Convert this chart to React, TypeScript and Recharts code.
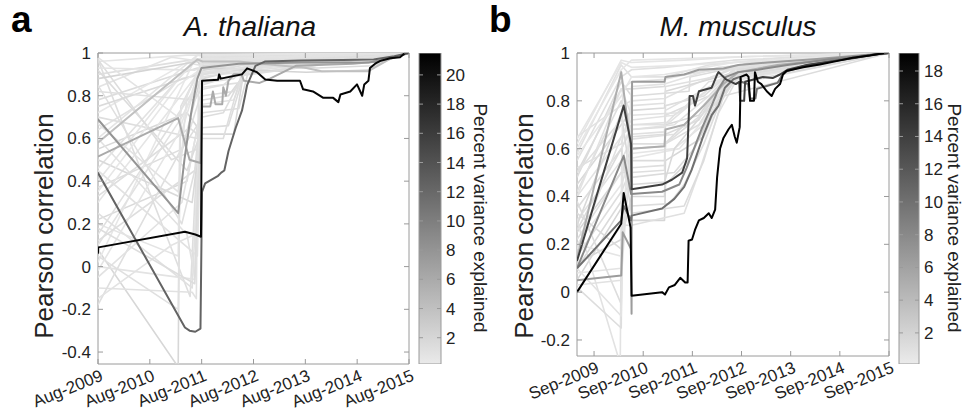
import { LineChart, Line, XAxis, YAxis, ReferenceArea, BarChart, Bar } from 'recharts'

type Pt = [number, number]

const FONT = '"Liberation Sans", Arial, Helvetica, sans-serif'
const AXIS = '#9a9a9a'
const TEXT = '#222'

// ---- A. thaliana (x in decimal years, Aug-2009 .. Aug-2015)
const athXTicks = [2009.583, 2010.583, 2011.583, 2012.583, 2013.583, 2014.583, 2015.583]
const athXLabels = ['Aug-2009', 'Aug-2010', 'Aug-2011', 'Aug-2012', 'Aug-2013', 'Aug-2014', 'Aug-2015']
const athYTicks = [-0.4, -0.2, 0, 0.2, 0.4, 0.6, 0.8, 1]
const athCbTicks = [2, 4, 6, 8, 10, 12, 14, 16, 18, 20]

const athLight: Pt[][] = [
  [[2009.58, 0.96], [2011.3, 0.99], [2011.6, 0.99], [2013.0, 0.995], [2015.58, 1]],
  [[2009.58, 0.9], [2011.45, 0.97], [2011.6, 0.975], [2012.5, 0.98], [2014.0, 0.99], [2015.58, 1]],
  [[2009.58, 0.84], [2011.0, 0.98], [2011.6, 0.96], [2012.8, 0.97], [2014.5, 0.985], [2015.58, 1]],
  [[2009.58, 0.78], [2011.5, 0.93], [2011.6, 0.92], [2012.3, 0.95], [2014.0, 0.97], [2015.58, 1]],
  [[2009.58, 0.72], [2011.4, 0.97], [2011.6, 0.95], [2013.0, 0.975], [2015.58, 1]],
  [[2009.58, 0.64], [2011.2, 0.88], [2011.6, 0.9], [2012.4, 0.96], [2014.2, 0.98], [2015.58, 1]],
  [[2009.58, 0.6], [2011.5, 0.99], [2011.6, 0.985], [2015.58, 1]],
  [[2009.58, 0.55], [2011.3, 0.72], [2011.6, 0.62], [2012.2, 0.62], [2012.4, 0.92], [2013.0, 0.96], [2015.58, 1]],
  [[2009.58, 0.46], [2011.4, 0.95], [2011.6, 0.94], [2012.6, 0.97], [2015.58, 1]],
  [[2009.58, 0.37], [2011.2, 0.55], [2011.6, 0.7], [2012.0, 0.72], [2012.45, 0.93], [2013.5, 0.97], [2015.58, 1]],
  [[2009.58, 0.3], [2011.5, 0.9], [2011.6, 0.91], [2012.5, 0.95], [2014.0, 0.975], [2015.58, 1]],
  [[2009.58, 0.22], [2011.3, 0.4], [2011.6, 0.78], [2012.1, 0.8], [2012.5, 0.93], [2015.58, 1]],
  [[2009.58, 0.15], [2011.5, 0.85], [2011.6, 0.86], [2012.2, 0.88], [2012.5, 0.95], [2015.58, 1]],
  [[2009.58, 0.08], [2011.13, -0.47], [2011.16, 0.5], [2011.6, 0.92], [2013.0, 0.97], [2015.58, 1]],
  [[2009.58, 0.97], [2011.36, -0.14], [2011.45, 0.3], [2011.6, 0.95], [2015.58, 1]],
  [[2009.58, 0.0], [2011.45, -0.06], [2011.55, 0.6], [2011.6, 0.97], [2015.58, 1]],
  [[2009.58, -0.1], [2011.4, -0.12], [2011.48, -0.15], [2011.52, 0.8], [2011.6, 0.98], [2015.58, 1]],
  [[2009.58, -0.18], [2011.3, 0.6], [2011.6, 0.83], [2012.0, 0.85], [2012.5, 0.95], [2015.58, 1]],
  [[2009.58, -0.05], [2011.2, 0.3], [2011.6, 0.76], [2012.2, 0.78], [2012.4, 0.9], [2015.58, 1]],
  [[2009.58, 0.5], [2011.4, 0.3], [2011.55, 0.6], [2011.6, 0.88], [2012.6, 0.94], [2015.58, 1]],
  [[2009.58, 0.92], [2011.3, 0.45], [2011.6, 0.65], [2012.1, 0.66], [2012.4, 0.9], [2015.58, 1]],
  [[2009.58, 0.02], [2011.45, 0.97], [2011.6, 0.97], [2015.58, 1]],
  [[2009.58, 0.7], [2011.5, 0.6], [2011.6, 0.8], [2012.2, 0.82], [2012.5, 0.94], [2015.58, 1]],
  [[2009.58, 0.4], [2011.5, 0.99], [2015.58, 1]],
  [[2009.58, 0.1], [2011.2, 0.7], [2011.6, 0.9], [2013.0, 0.96], [2015.58, 1]],
  [[2009.58, 0.97], [2011.0, 0.5], [2011.5, 0.55], [2011.6, 0.72], [2012.3, 0.74], [2012.5, 0.93], [2015.58, 1]],
  [[2009.58, 0.25], [2011.4, -0.1], [2011.5, 0.4], [2011.6, 0.89], [2015.58, 1]],
  [[2009.58, 0.85], [2011.2, 0.2], [2011.5, 0.5], [2011.6, 0.85], [2012.6, 0.93], [2015.58, 1]],
  [[2009.58, -0.15], [2011.0, 0.1], [2011.45, 0.15], [2011.6, 0.94], [2015.58, 1]],
  [[2009.58, 0.6], [2011.3, 0.15], [2011.45, -0.05], [2011.6, 0.9], [2015.58, 1]],
  [[2009.58, 0.93], [2011.45, 0.92], [2011.6, 0.93], [2012.6, 0.97], [2015.58, 1]],
  [[2009.58, 0.33], [2011.35, 0.65], [2011.6, 0.6], [2012.0, 0.6], [2012.35, 0.9], [2015.58, 1]],
  [[2009.58, 0.88], [2011.5, 0.96], [2011.6, 0.93], [2012.5, 0.92], [2013.6, 0.91], [2014.8, 0.92], [2015.2, 0.97], [2015.58, 1]],
  [[2009.58, 0.75], [2011.5, 0.9], [2011.6, 0.94], [2012.8, 0.95], [2013.8, 0.93], [2014.9, 0.94], [2015.3, 0.98], [2015.58, 1]],
  [[2009.58, 0.2], [2011.13, 0.05], [2011.16, 0.6], [2011.6, 0.96], [2015.58, 1]],
  [[2009.58, 0.05], [2011.13, -0.2], [2011.18, 0.75], [2011.6, 0.95], [2015.58, 1]],
  [[2009.58, 0.35], [2011.13, 0.85], [2011.6, 0.93], [2015.58, 1]],
  [[2009.58, 0.12], [2011.45, 0.45], [2011.55, 0.7], [2011.6, 0.9], [2012.5, 0.95], [2015.58, 1]],
  [[2009.58, 0.67], [2011.13, 0.35], [2011.3, 0.8], [2011.6, 0.96], [2015.58, 1]],
  [[2009.58, 0.82], [2011.45, 0.78], [2011.6, 0.84], [2012.3, 0.86], [2012.5, 0.95], [2015.58, 1]],
  [[2009.58, -0.02], [2011.13, 0.62], [2011.6, 0.97], [2015.58, 1]],
  [[2009.58, 0.45], [2011.5, 0.05], [2011.55, 0.5], [2011.6, 0.91], [2015.58, 1]],
  [[2009.58, 0.18], [2011.45, -0.08], [2011.5, 0.3], [2011.6, 0.87], [2015.58, 1]],
  [[2009.58, 0.98], [2011.13, 0.7], [2011.6, 0.97], [2015.58, 1]],
]
const athLightVar = [0.6, 1.2, 0.8, 1.5, 0.5, 1.0, 0.7, 1.8, 0.9, 1.4, 0.6, 1.6, 1.1, 1.9, 1.3, 0.8,
  1.0, 1.2, 0.9, 1.7, 1.5, 0.5, 1.3, 0.6, 0.9, 1.4, 1.1, 1.2, 0.8, 1.0, 0.7, 1.3, 2.2, 1.6,
  0.7, 1.1, 0.5, 1.3, 0.9, 1.2, 0.6, 1.0, 1.4, 0.8]

const athMain: Pt[][] = [
  [[2009.58, 0.58], [2011.5, 0.97], [2011.6, 0.96], [2012.3, 0.96], [2013.6, 0.93], [2013.9, 0.915], [2014.8, 0.915], [2015.2, 0.97], [2015.58, 1]],
  [[2009.58, 0.515], [2011.13, 0.695], [2011.35, 0.5], [2011.56, 0.485], [2011.59, 0.75], [2011.75, 0.75], [2011.8, 0.82],
    [2011.85, 0.76], [2011.98, 0.76], [2012.0, 0.84], [2012.05, 0.8], [2012.1, 0.87], [2012.2, 0.9], [2012.35, 0.9],
    [2012.4, 0.87], [2012.7, 0.86], [2012.9, 0.88], [2013.4, 0.94], [2014.5, 0.95], [2015.0, 0.96], [2015.58, 1]],
  [[2009.58, 0.69], [2011.13, 0.25], [2011.25, 0.5], [2011.38, 0.72], [2011.5, 0.88], [2011.58, 0.93], [2012.3, 0.95],
    [2013.5, 0.955], [2014.8, 0.955], [2015.3, 0.98], [2015.58, 1]],
  [[2009.58, 0.44], [2011.26, -0.285], [2011.35, -0.3], [2011.46, -0.305], [2011.56, -0.29], [2011.59, 0.35], [2011.65, 0.39],
    [2011.9, 0.425], [2011.96, 0.44], [2012.02, 0.45], [2012.1, 0.54], [2012.24, 0.65], [2012.36, 0.73], [2012.42, 0.8],
    [2012.46, 0.85], [2012.55, 0.9], [2012.62, 0.94], [2012.8, 0.96], [2013.5, 0.965], [2014.3, 0.967], [2014.9, 0.97],
    [2015.3, 0.985], [2015.58, 1]],
  [[2009.58, 0.06], [2009.59, 0.09], [2011.26, 0.163], [2011.46, 0.15], [2011.57, 0.14], [2011.59, 0.87], [2011.9, 0.875],
    [2011.92, 0.9], [2011.95, 0.88], [2012.36, 0.9], [2012.46, 0.928], [2012.55, 0.92], [2012.65, 0.91], [2012.81, 0.876],
    [2013.04, 0.87], [2013.48, 0.87], [2013.54, 0.83], [2013.73, 0.82], [2013.93, 0.79], [2014.12, 0.79], [2014.22, 0.77],
    [2014.26, 0.806], [2014.45, 0.82], [2014.58, 0.853], [2014.68, 0.8], [2014.72, 0.853], [2014.8, 0.87], [2014.83, 0.93],
    [2014.93, 0.95], [2015.03, 0.963], [2015.22, 0.975], [2015.41, 0.98], [2015.51, 1.0], [2015.58, 1.0]],
]
const athMainVar = [4, 6, 8, 12.5, 21]

// ---- M. musculus (Sep-2009 .. Sep-2015)
const musXTicks = [2009.667, 2010.667, 2011.667, 2012.667, 2013.667, 2014.667, 2015.667]
const musXLabels = ['Sep-2009', 'Sep-2010', 'Sep-2011', 'Sep-2012', 'Sep-2013', 'Sep-2014', 'Sep-2015']
const musYTicks = [-0.2, 0, 0.2, 0.4, 0.6, 0.8, 1]
const musCbTicks = [2, 4, 6, 8, 10, 12, 14, 16, 18]

const musLight: Pt[][] = [
  [[2009.32, 0.62], [2010.22, 0.97], [2010.42, 0.96], [2011.5, 0.97], [2012.7, 0.985], [2015.667, 1]],
  [[2009.32, 0.55], [2010.22, 0.9], [2010.43, 0.93], [2011.1, 0.94], [2012.5, 0.97], [2015.667, 1]],
  [[2009.32, 0.5], [2010.22, 0.85], [2010.43, 0.85], [2011.1, 0.86], [2011.12, 0.9], [2012.2, 0.93], [2013.5, 0.97], [2015.667, 1]],
  [[2009.32, 0.65], [2010.22, 0.78], [2010.43, 0.8], [2011.1, 0.81], [2011.6, 0.86], [2012.4, 0.93], [2013.5, 0.97], [2015.667, 1]],
  [[2009.32, 0.45], [2010.22, 0.7], [2010.43, 0.76], [2011.1, 0.77], [2011.12, 0.84], [2012.2, 0.9], [2013.0, 0.95], [2015.667, 1]],
  [[2009.32, 0.4], [2010.22, 0.65], [2010.43, 0.72], [2011.3, 0.74], [2011.7, 0.8], [2012.3, 0.9], [2013.2, 0.95], [2015.667, 1]],
  [[2009.32, 0.35], [2010.22, 0.6], [2010.43, 0.68], [2011.1, 0.69], [2011.12, 0.78], [2011.9, 0.82], [2012.5, 0.93], [2015.667, 1]],
  [[2009.32, 0.3], [2010.22, 0.55], [2010.43, 0.64], [2011.3, 0.66], [2011.8, 0.76], [2012.4, 0.9], [2015.667, 1]],
  [[2009.32, 0.25], [2010.22, 0.5], [2010.43, 0.6], [2011.1, 0.61], [2011.12, 0.7], [2011.8, 0.74], [2012.3, 0.88], [2013.1, 0.94], [2015.667, 1]],
  [[2009.32, 0.2], [2010.22, 0.45], [2010.43, 0.56], [2011.4, 0.6], [2011.9, 0.72], [2012.4, 0.88], [2015.667, 1]],
  [[2009.32, 0.15], [2010.22, 0.42], [2010.43, 0.52], [2011.1, 0.53], [2011.12, 0.62], [2011.8, 0.7], [2012.1, 0.8], [2012.5, 0.9], [2015.667, 1]],
  [[2009.32, 0.1], [2010.22, 0.38], [2010.43, 0.48], [2011.3, 0.5], [2011.7, 0.6], [2012.2, 0.8], [2012.6, 0.92], [2015.667, 1]],
  [[2009.32, 0.05], [2010.22, 0.35], [2010.43, 0.3], [2011.1, 0.3], [2011.12, 0.45], [2011.6, 0.55], [2012.1, 0.78], [2012.6, 0.9], [2015.667, 1]],
  [[2009.32, 0.0], [2010.22, 0.28], [2010.43, 0.28], [2011.5, 0.33], [2011.8, 0.5], [2012.2, 0.75], [2012.6, 0.9], [2015.667, 1]],
  [[2009.32, 0.3], [2010.2, -0.3], [2010.23, 0.6], [2010.43, 0.7], [2011.2, 0.71], [2011.6, 0.78], [2012.3, 0.9], [2015.667, 1]],
  [[2009.32, 0.02], [2010.22, -0.15], [2010.25, 0.5], [2010.43, 0.65], [2011.1, 0.66], [2011.12, 0.74], [2012.0, 0.82], [2012.5, 0.93], [2015.667, 1]],
  [[2009.32, 0.2], [2010.22, 0.15], [2010.43, 0.58], [2011.3, 0.6], [2011.9, 0.7], [2012.3, 0.86], [2015.667, 1]],
  [[2009.32, 0.58], [2010.22, 0.95], [2010.43, 0.9], [2011.1, 0.9], [2012.0, 0.95], [2013.5, 0.98], [2015.667, 1]],
  [[2009.32, 0.48], [2010.22, 0.88], [2010.43, 0.82], [2011.6, 0.84], [2011.62, 0.9], [2013.0, 0.96], [2015.667, 1]],
  [[2009.32, 0.12], [2010.22, 0.22], [2010.43, 0.4], [2011.1, 0.4], [2011.12, 0.55], [2011.9, 0.65], [2012.3, 0.85], [2012.7, 0.93], [2015.667, 1]],
  [[2009.32, 0.42], [2010.22, 0.8], [2010.43, 0.62], [2011.1, 0.62], [2011.6, 0.72], [2012.2, 0.84], [2012.6, 0.93], [2015.667, 1]],
  [[2009.32, 0.28], [2010.22, 0.75], [2010.43, 0.45], [2011.1, 0.46], [2011.3, 0.6], [2011.9, 0.75], [2012.4, 0.9], [2015.667, 1]],
  [[2009.32, 0.08], [2010.22, 0.1], [2010.25, 0.85], [2010.43, 0.88], [2011.1, 0.89], [2012.0, 0.93], [2015.667, 1]],
  [[2009.32, 0.6], [2010.22, 0.93], [2010.43, 0.97], [2012.0, 0.98], [2015.667, 1]],
  [[2009.32, 0.38], [2010.22, -0.05], [2010.25, 0.3], [2010.43, 0.36], [2011.2, 0.37], [2011.5, 0.45], [2011.9, 0.62], [2012.2, 0.78], [2012.6, 0.91], [2015.667, 1]],
  [[2009.32, 0.52], [2010.22, 0.62], [2010.43, 0.78], [2011.1, 0.79], [2011.12, 0.86], [2012.1, 0.9], [2012.8, 0.96], [2015.667, 1]],
  [[2009.32, 0.33], [2010.22, 0.18], [2010.43, 0.55], [2011.1, 0.55], [2011.12, 0.66], [2011.8, 0.72], [2012.2, 0.86], [2015.667, 1]],
  [[2009.32, 0.18], [2010.22, 0.65], [2010.43, 0.7], [2011.1, 0.7], [2011.3, 0.74], [2012.0, 0.85], [2012.6, 0.94], [2015.667, 1]],
  [[2009.32, 0.64], [2010.22, 0.96], [2010.43, 0.94], [2011.6, 0.95], [2015.667, 1]],
  [[2009.32, 0.22], [2010.22, 0.5], [2010.43, 0.5], [2011.1, 0.51], [2011.12, 0.62], [2012.2, 0.8], [2012.6, 0.92], [2015.667, 1]],
  [[2009.32, 0.4], [2010.22, 0.85], [2010.43, 0.74], [2011.4, 0.75], [2012.0, 0.88], [2015.667, 1]],
  [[2009.32, 0.26], [2010.22, 0.6], [2010.43, 0.33], [2011.5, 0.36], [2011.9, 0.55], [2012.3, 0.82], [2015.667, 1]],
  [[2009.32, 0.1], [2010.22, -0.1], [2010.24, 0.2], [2010.43, 0.86], [2011.1, 0.87], [2012.2, 0.94], [2015.667, 1]],
  [[2009.32, 0.5], [2010.22, 0.72], [2010.43, 0.66], [2011.1, 0.67], [2011.12, 0.76], [2012.2, 0.88], [2015.667, 1]],
  [[2009.32, 0.03], [2010.22, 0.05], [2010.43, 0.68], [2011.3, 0.7], [2012.0, 0.82], [2012.5, 0.92], [2015.667, 1]],
  [[2009.32, 0.57], [2010.22, 0.82], [2010.43, 0.9], [2011.1, 0.91], [2012.5, 0.96], [2015.667, 1]],
]
const musLightVar = [0.6, 1.0, 1.3, 0.8, 1.5, 0.7, 1.2, 0.9, 1.6, 0.5, 1.1, 1.4, 1.8, 1.0, 0.8, 1.2,
  0.6, 0.9, 1.3, 1.7, 1.1, 1.5, 0.7, 0.5, 1.2, 1.0, 1.4, 0.9, 0.6, 1.1, 0.8, 1.3, 0.7, 1.0, 0.9, 0.5]

const musMain: Pt[][] = [
  [[2009.32, 0.14], [2010.22, 0.92], [2010.42, 0.6], [2011.1, 0.61], [2011.12, 0.68], [2011.5, 0.7], [2011.9, 0.78],
    [2012.3, 0.87], [2012.6, 0.92], [2013.4, 0.95], [2015.667, 1]],
  [[2009.32, 0.05], [2010.22, 0.07], [2010.25, 0.25], [2010.42, 0.18], [2010.43, -0.09], [2010.44, 0.88], [2011.1, 0.88],
    [2011.12, 0.9], [2011.5, 0.91], [2011.8, 0.93], [2012.3, 0.935], [2012.6, 0.95], [2013.2, 0.96], [2014.2, 0.975], [2015.667, 1]],
  [[2009.32, 0.1], [2010.27, 0.57], [2010.42, 0.41], [2011.05, 0.42], [2011.4, 0.45], [2011.55, 0.52], [2011.7, 0.6],
    [2011.85, 0.68], [2012.0, 0.75], [2012.2, 0.85], [2012.35, 0.9], [2012.6, 0.92], [2013.0, 0.93], [2013.6, 0.95],
    [2014.5, 0.975], [2015.667, 1]],
  [[2009.32, 0.1], [2010.22, 0.3], [2010.27, 0.36], [2010.42, 0.3], [2010.43, 0.32], [2011.05, 0.35], [2011.3, 0.39],
    [2011.5, 0.44], [2011.65, 0.51], [2011.8, 0.6], [2011.9, 0.66], [2012.06, 0.74], [2012.2, 0.78], [2012.33, 0.855],
    [2012.5, 0.89], [2012.63, 0.9], [2012.66, 0.88], [2012.8, 0.87], [2012.84, 0.81], [2012.95, 0.81], [2012.98, 0.85],
    [2013.4, 0.875], [2013.5, 0.91], [2013.6, 0.925], [2014.0, 0.95], [2014.6, 0.97], [2015.2, 0.99], [2015.667, 1]],
  [[2009.32, 0.13], [2010.27, 0.78], [2010.42, 0.62], [2010.43, 0.43], [2011.05, 0.45], [2011.25, 0.47], [2011.46, 0.5],
    [2011.56, 0.56], [2011.61, 0.82], [2011.68, 0.82], [2011.72, 0.78], [2011.8, 0.84], [2012.06, 0.855], [2012.17, 0.91],
    [2012.2, 0.92], [2012.35, 0.89], [2012.55, 0.87], [2012.62, 0.88], [2012.64, 0.8], [2012.72, 0.8], [2012.74, 0.88],
    [2013.1, 0.9], [2013.3, 0.895], [2013.45, 0.91], [2013.6, 0.93], [2014.0, 0.95], [2014.5, 0.965], [2015.0, 0.98],
    [2015.4, 0.995], [2015.667, 1]],
  [[2009.32, 0.0], [2010.22, 0.286], [2010.27, 0.415], [2010.41, 0.27], [2010.43, -0.015], [2011.05, 0.0], [2011.11, -0.01],
    [2011.19, 0.02], [2011.31, 0.03], [2011.42, 0.06], [2011.52, 0.04], [2011.57, 0.04], [2011.59, 0.215], [2011.66, 0.22],
    [2011.72, 0.26], [2011.8, 0.3], [2011.9, 0.31], [2012.0, 0.33], [2012.06, 0.31], [2012.13, 0.345], [2012.17, 0.48],
    [2012.23, 0.6], [2012.3, 0.645], [2012.4, 0.68], [2012.47, 0.7], [2012.53, 0.65], [2012.57, 0.625], [2012.63, 0.69],
    [2012.65, 0.9], [2012.77, 0.91], [2012.81, 0.9], [2012.84, 0.8], [2012.92, 0.8], [2012.94, 0.92], [2013.0, 0.88],
    [2013.07, 0.87], [2013.18, 0.84], [2013.28, 0.82], [2013.35, 0.85], [2013.45, 0.87], [2013.51, 0.91], [2013.58, 0.925],
    [2013.92, 0.94], [2014.26, 0.952], [2014.6, 0.966], [2014.93, 0.98], [2015.28, 0.99], [2015.58, 1.0], [2015.667, 1.0]],
]
const musMainVar = [5, 6.5, 8, 10, 14, 19]

const grey = (v: number, vmax: number) => {
  const g = Math.round(236 * (1 - v / vmax))
  return `rgb(${g},${g},${g})`
}

const H = 410

function Panel(props: any) {
  const { left, width, margin, xDomain, yDomain, xTicks, xLabels, yTicks, light, lightVar, main, mainVar, vmax, yLabelX } = props
  // axes take 1px each (an axis of size 0 is not drawn)
  const plotTop = margin.top
  const plotRight = width - margin.right
  const series = [
    ...light.map((pts: Pt[], i: number) => ({ pts, v: lightVar[i], w: 1.6 })),
    ...main.map((pts: Pt[], i: number) => ({ pts, v: mainVar[i], w: 2 })),
  ]
  const XTick = (p: any) => {
    const label = xLabels[xTicks.indexOf(p.payload.value)]
    const ax = p.x + 6
    const ay = p.y + 16
    return (
      <g>
        <line x1={p.x} y1={p.y} x2={p.x} y2={p.y - 5} stroke={AXIS} />
        <line x1={p.x} y1={plotTop} x2={p.x} y2={plotTop + 5} stroke={AXIS} />
        <text x={ax} y={ay} textAnchor="end" transform={`rotate(-22 ${ax} ${ay})`}
          fontSize={17} fontFamily={FONT} fill={TEXT}>{label}</text>
      </g>
    )
  }
  const YTick = (p: any) => (
    <g>
      <line x1={p.x} y1={p.y} x2={p.x + 5} y2={p.y} stroke={AXIS} />
      <line x1={plotRight} y1={p.y} x2={plotRight - 5} y2={p.y} stroke={AXIS} />
      <text x={p.x - 7} y={p.y + 6} textAnchor="end" fontSize={17} fontFamily={FONT} fill={TEXT}>
        {String(p.payload.value)}
      </text>
    </g>
  )
  const yMid = 226
  return (
    <div style={{ position: 'absolute', left, top: 0 }}>
      <LineChart width={width} height={H} margin={margin}>
        <XAxis type="number" dataKey="x" domain={xDomain} ticks={xTicks} allowDataOverflow interval={0}
          height={1} tickSize={0} tickMargin={0} axisLine={false} tickLine={false} tick={XTick} />
        <YAxis type="number" domain={yDomain} ticks={yTicks} allowDataOverflow interval={0}
          width={1} tickSize={0} tickMargin={0} axisLine={false} tickLine={false} tick={YTick}
          label={{
            content: () => (
              <text x={yLabelX} y={yMid} textAnchor="middle" transform={`rotate(-90 ${yLabelX} ${yMid})`}
                fontSize={26} fontFamily={FONT} fill={TEXT}>Pearson correlation</text>
            ),
          }} />
        {series.map((s: any, i: number) => (
          <Line key={i} data={s.pts.map(([x, y]: Pt) => ({ x, y }))} dataKey="y" type="linear"
            stroke={grey(s.v, vmax)} strokeWidth={s.w} strokeLinejoin="round" dot={false} activeDot={false}
            isAnimationActive={false} />
        ))}
        <ReferenceArea x1={xDomain[0]} x2={xDomain[1]} y1={yDomain[0]} y2={yDomain[1]} fill="none"
          fillOpacity={0} stroke={AXIS} strokeOpacity={1} ifOverflow="visible" />
      </LineChart>
    </div>
  )
}

function ColorBar(props: any) {
  const { left, width, margin, vmax, vmin, ticks, gradId, labelX, gap } = props
  const barW = width - margin.left - margin.right - 1
  const cbTick = (p: any) => (
    <g>
      <line x1={p.x} y1={p.y} x2={p.x - 4} y2={p.y} stroke={AXIS} />
      <line x1={p.x - barW} y1={p.y} x2={p.x - barW + 4} y2={p.y} stroke={AXIS} />
      <text x={p.x + gap} y={p.y + 6} textAnchor="start" fontSize={17} fontFamily={FONT} fill={TEXT}>
        {String(p.payload.value)}
      </text>
    </g>
  )
  const mid = 218
  return (
    <div style={{ position: 'absolute', left, top: 0 }}>
      <BarChart width={width} height={H} data={[{ name: 'cb', v: vmax }]} margin={margin} barCategoryGap={0}>
        <defs>
          <linearGradient id={gradId} x1="0" y1="0" x2="0" y2="1">
            <stop offset="0%" stopColor="#000" />
            <stop offset="100%" stopColor={grey(vmin, vmax)} />
          </linearGradient>
        </defs>
        <XAxis dataKey="name" hide />
        <YAxis orientation="right" type="number" domain={[vmin, vmax]} ticks={ticks} allowDataOverflow interval={0}
          width={1} tickSize={0} tickMargin={0} axisLine={false} tickLine={false} tick={cbTick}
          label={{
            content: () => (
              <text x={labelX} y={mid} textAnchor="middle" transform={`rotate(90 ${labelX} ${mid})`}
                fontSize={19} fontFamily={FONT} fill={TEXT}>Percent variance explained</text>
            ),
          }} />
        <Bar dataKey="v" fill={`url(#${gradId})`} stroke={AXIS} strokeWidth={1} isAnimationActive={false} />
      </BarChart>
    </div>
  )
}

const titleStyle = (cx: number): any => ({
  position: 'absolute', left: cx - 150, top: 13, width: 300, textAlign: 'center',
  fontFamily: FONT, fontStyle: 'italic', fontSize: 28, lineHeight: 1, color: '#111',
})
const letterStyle = (x: number): any => ({
  position: 'absolute', left: x, top: 0, fontFamily: FONT, fontWeight: 'bold', fontSize: 37,
  lineHeight: '40px', color: '#000',
})

export default function App() {
  return (
    <div style={{ position: 'absolute', left: 0, top: 0, width: 966, height: 410, background: '#fff', overflow: 'hidden' }}>
      <div style={letterStyle(11)}>a</div>
      <div style={titleStyle(250)}>A. thaliana</div>
      <div style={letterStyle(489)}>b</div>
      <div style={titleStyle(738)}>M. musculus</div>

      <Panel left={0} width={420} margin={{ top: 53, bottom: 45, left: 97, right: 11 }}
        xDomain={[2009.583, 2015.583]} yDomain={[-0.456, 1]} xTicks={athXTicks} xLabels={athXLabels}
        yTicks={athYTicks} light={athLight} lightVar={athLightVar} main={athMain} mainVar={athMainVar}
        vmax={21.5} yLabelX={53} />
      <ColorBar left={410} width={85} margin={{ top: 53, bottom: 46, left: 9, right: 53 }}
        vmin={0.2} vmax={21.5} ticks={athCbTicks} gradId="cbA" labelX={64} gap={5} />

      <Panel left={483} width={420} margin={{ top: 53, bottom: 53, left: 93, right: 14 }}
        xDomain={[2009.32, 2015.667]} yDomain={[-0.267, 1]} xTicks={musXTicks} xLabels={musXLabels}
        yTicks={musYTicks} light={musLight} lightVar={musLightVar} main={musMain} mainVar={musMainVar}
        vmax={19.1} yLabelX={50} />
      <ColorBar left={890} width={76} margin={{ top: 53, bottom: 46, left: 9, right: 46 }}
        vmin={0.1} vmax={19.1} ticks={musCbTicks} gradId="cbB" labelX={58} gap={5} />
    </div>
  )
}
